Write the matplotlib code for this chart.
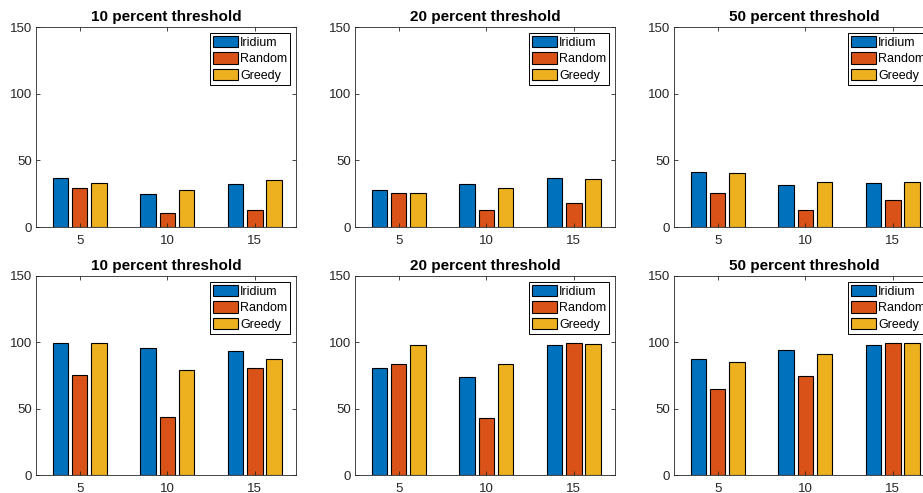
import numpy as np
import matplotlib
matplotlib.use('Agg')
import matplotlib.pyplot as plt

plt.rcParams['font.family'] = ['Liberation Sans', 'DejaVu Sans']

groups = ['5', '10', '15']
methods = ['Iridium', 'Random', 'Greedy']
titles = ['10 percent threshold', '20 percent threshold', '50 percent threshold']

# top row
top_iridium = [[37, 25, 32.5], [28, 32.2, 37], [41.5, 31.7, 33.2]]
top_random = [[29, 10.8, 12.5], [25.8, 13, 18], [25.5, 13, 20.5]]
top_greedy = [[32.8, 27.5, 35], [25.5, 29.2, 36.2], [40.2, 33.7, 33.7]]

# bottom row
bot_iridium = [[99.2, 95.9, 93.1], [81, 74, 97.9], [87.1, 93.9, 97.7]]
bot_random = [[75.3, 43.5, 81], [83.6, 42.8, 99.7], [64.7, 75, 99.2]]
bot_greedy = [[99.2, 79, 87.8], [97.7, 83.3, 98.7], [84.8, 90.9, 99.7]]

colors = ['#0072BD', '#D95319', '#EDB120']
axcol = '#262626'

W, H = 923, 493
fig = plt.figure(figsize=(W / 100, H / 100), dpi=100)

lefts = [36, 355, 674]
rows = [(27, 227), (276, 475)]


def draw_panel(ax, vals, title):
	x = np.arange(1, len(groups) + 1)
	offs = [-0.22, 0, 0.22]
	for k in range(len(methods)):
		ax.bar(x + offs[k], vals[k], width=0.175, color=colors[k],
			   edgecolor='black', linewidth=0.8, label=methods[k])
	ax.set_xlim(0.5, 3.47)
	ax.set_ylim(0, 150)
	ax.set_yticks([0, 50, 100, 150])
	ax.set_xticks(x)
	ax.set_xticklabels(groups)
	ax.tick_params(direction='in', top=True, right=True, length=3, width=0.6,
				   colors=axcol, labelsize=9.5)
	ax.tick_params(axis='x', pad=6)
	ax.tick_params(axis='y', pad=3)
	for s in ax.spines.values():
		s.set_color(axcol)
		s.set_linewidth(0.6)
	ax.set_title(title, fontsize=11, fontweight='bold', color='black', pad=4)
	leg = ax.legend(loc='upper right', fontsize=9, frameon=True, fancybox=False,
					edgecolor='black', handlelength=2.0, handleheight=1.05,
					labelspacing=0.28, handletextpad=0.2, borderpad=0.25,
					borderaxespad=0.45, framealpha=1)
	leg.get_frame().set_linewidth(0.7)


for r in range(2):
	top, bottom = rows[r]
	for c in range(3):
		ax = fig.add_axes([lefts[c] / W, (H - bottom) / H, 260 / W, (bottom - top) / H])
		if r == 0:
			vals = [top_iridium[c], top_random[c], top_greedy[c]]
		else:
			vals = [bot_iridium[c], bot_random[c], bot_greedy[c]]
		draw_panel(ax, vals, titles[c])

fig.savefig('out.png', dpi=100)
